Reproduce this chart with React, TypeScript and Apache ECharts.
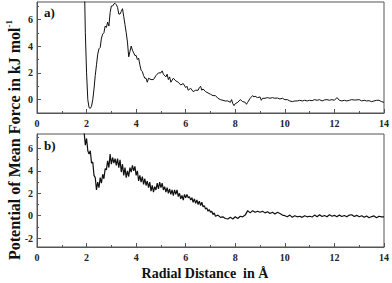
import React, { useEffect, useRef } from "react";
import * as echarts from "echarts";

// Panel a) data: radial distance (Å) and PMF (kJ/mol)
const xA = [1.88, 1.95, 2.0, 2.05, 2.1, 2.15, 2.2, 2.25, 2.3, 2.35, 2.4, 2.45, 2.5, 2.55, 2.6, 2.65, 2.7, 2.75, 2.8, 2.85, 2.9, 2.95, 3.0, 3.05, 3.1, 3.15, 3.2, 3.25, 3.3, 3.35, 3.4, 3.45, 3.5, 3.55, 3.6, 3.65, 3.7, 3.75, 3.8, 3.85, 3.9, 3.95, 4.0, 4.05, 4.1, 4.15, 4.2, 4.25, 4.3, 4.35, 4.4, 4.45, 4.5, 4.6, 4.7, 4.8, 4.9, 5.0, 5.05, 5.1, 5.2, 5.25, 5.3, 5.35, 5.4, 5.5, 5.6, 5.7, 5.8, 5.9, 6.0, 6.05, 6.1, 6.2, 6.3, 6.4, 6.5, 6.55, 6.6, 6.65, 6.7, 6.8, 6.9, 7.0, 7.1, 7.2, 7.3, 7.4, 7.5, 7.6, 7.7, 7.8, 7.85, 7.9, 7.95, 8.0, 8.1, 8.2, 8.3, 8.4, 8.45, 8.5, 8.6, 8.7, 8.75, 8.8, 8.9, 9.0, 9.05, 9.1, 9.2, 9.3, 9.4, 9.5, 9.6, 9.7, 9.8, 9.9, 10.0, 10.1, 10.2, 10.3, 10.4, 10.5, 10.6, 10.7, 10.8, 10.9, 11.0, 11.1, 11.2, 11.3, 11.4, 11.5, 11.6, 11.7, 11.8, 11.9, 12.0, 12.1, 12.2, 12.3, 12.4, 12.5, 12.6, 12.7, 12.8, 12.9, 13.0, 13.1, 13.2, 13.3, 13.4, 13.5, 13.6, 13.7, 13.8, 13.9, 14.0];
const yA = [12, 5, 2.0, 0.0, -0.6, -0.65, -0.5, 0.0, 0.8, 1.8, 2.6, 3.4, 3.8, 3.9, 4.6, 4.9, 5.0, 5.5, 5.4, 5.8, 5.5, 6.5, 7.0, 7.0, 7.15, 7.2, 7.1, 6.9, 6.4, 6.4, 6.6, 6.8, 6.2, 5.6, 5.0, 4.3, 3.2, 3.6, 4.0, 3.7, 3.5, 3.3, 3.3, 3.0, 3.1, 2.6, 2.2, 2.1, 1.8, 1.6, 1.6, 1.3, 1.6, 1.5, 1.5, 1.8, 2.0, 2.0, 2.15, 1.9, 1.7, 1.9, 1.5, 1.7, 1.3, 1.6, 1.4, 1.3, 1.1, 1.2, 0.9, 1.0, 0.7, 0.85, 0.6, 0.7, 0.7, 0.9, 1.0, 0.7, 0.8, 0.6, 0.5, 0.4, 0.3, 0.3, 0.1, 0.0, -0.05, -0.1, -0.1, -0.2, 0.0, -0.3, -0.45, -0.3, -0.2, 0.0, -0.15, -0.2, -0.35, -0.2, 0.1, 0.3, 0.2, 0.25, 0.15, 0.2, -0.05, 0.1, 0.1, 0.15, 0.1, 0.15, 0.1, 0.12, 0.05, 0.1, 0.0, 0.0, -0.1, -0.15, -0.1, -0.1, -0.05, -0.1, -0.05, -0.1, -0.05, -0.08, 0.0, -0.05, 0.0, -0.1, -0.02, 0.0, -0.05, 0.0, -0.05, 0.15, -0.05, -0.1, -0.05, -0.1, -0.05, 0.0, -0.03, -0.02, 0.0, -0.1, -0.05, -0.1, -0.08, -0.15, -0.1, -0.05, -0.05, -0.15, -0.2];

// Panel b) data
const xB = [1.9, 1.95, 2.0, 2.05, 2.1, 2.15, 2.2, 2.25, 2.3, 2.35, 2.4, 2.45, 2.5, 2.55, 2.6, 2.65, 2.7, 2.75, 2.8, 2.85, 2.9, 2.95, 3.0, 3.05, 3.1, 3.15, 3.2, 3.25, 3.3, 3.35, 3.4, 3.45, 3.5, 3.55, 3.6, 3.65, 3.7, 3.75, 3.8, 3.85, 3.9, 3.95, 4.0, 4.05, 4.1, 4.15, 4.2, 4.25, 4.3, 4.35, 4.4, 4.45, 4.5, 4.55, 4.6, 4.65, 4.7, 4.75, 4.8, 4.85, 4.9, 4.95, 5.0, 5.05, 5.1, 5.15, 5.2, 5.25, 5.3, 5.35, 5.4, 5.45, 5.5, 5.55, 5.6, 5.65, 5.7, 5.75, 5.8, 5.85, 5.9, 5.95, 6.0, 6.05, 6.1, 6.15, 6.2, 6.25, 6.3, 6.35, 6.4, 6.45, 6.5, 6.55, 6.6, 6.65, 6.7, 6.75, 6.8, 6.85, 6.9, 6.95, 7.0, 7.05, 7.1, 7.15, 7.2, 7.3, 7.4, 7.5, 7.6, 7.7, 7.8, 7.9, 8.0, 8.1, 8.2, 8.3, 8.4, 8.5, 8.6, 8.7, 8.8, 8.9, 9.0, 9.1, 9.2, 9.3, 9.4, 9.5, 9.6, 9.7, 9.8, 9.9, 10.0, 10.1, 10.2, 10.3, 10.4, 10.5, 10.6, 10.7, 10.8, 10.9, 11.0, 11.1, 11.2, 11.3, 11.4, 11.5, 11.6, 11.7, 11.8, 11.9, 12.0, 12.1, 12.2, 12.3, 12.4, 12.5, 12.6, 12.7, 12.8, 12.9, 13.0, 13.1, 13.2, 13.3, 13.4, 13.5, 13.6, 13.7, 13.8, 13.9, 14.0];
const yB = [7.5, 6.3, 6.9, 5.8, 5.5, 5.8, 4.7, 4.8, 3.6, 3.4, 2.3, 3.0, 2.5, 3.4, 2.9, 3.7, 3.3, 4.2, 4.1, 4.9, 4.3, 5.5, 4.6, 5.2, 4.7, 5.1, 4.5, 5.1, 4.3, 5.0, 3.9, 4.6, 3.6, 4.3, 3.4, 4.0, 3.5, 4.3, 3.9, 4.5, 4.0, 4.4, 3.6, 4.0, 3.1, 3.6, 3.0, 3.5, 2.8, 3.3, 2.7, 3.1, 2.5, 3.0, 2.2, 2.7, 2.1, 2.6, 2.3, 2.9, 2.4, 3.0, 2.5, 2.9, 2.3, 2.6, 2.1, 2.5, 2.0, 2.4, 1.9, 2.3, 1.8, 2.3, 1.9, 2.3, 1.7, 2.0, 1.5, 1.8, 1.4, 1.9, 1.6, 1.9, 1.6, 1.7, 1.4, 1.6, 1.2, 1.5, 1.1, 1.4, 1.0, 1.3, 0.9, 1.2, 0.8, 0.9, 0.6, 0.7, 0.4, 0.55, 0.3, 0.4, 0.1, 0.25, -0.05, 0.05, -0.15, -0.1, -0.25, -0.3, -0.15, -0.3, -0.1, -0.25, -0.05, -0.1, 0.05, 0.45, 0.25, 0.45, 0.3, 0.4, 0.3, 0.4, 0.25, 0.35, 0.2, 0.3, 0.15, 0.3, 0.2, 0.05, 0.0, -0.1, 0.05, -0.15, 0.0, -0.1, -0.05, -0.15, 0.0, -0.1, -0.05, -0.12, 0.05, -0.1, 0.08, -0.08, 0.02, -0.1, 0.08, -0.05, 0.03, -0.1, 0.05, -0.08, 0.02, -0.1, 0.05, 0.08, -0.08, 0.03, -0.1, 0.0, -0.15, -0.02, -0.18, -0.08, -0.02, -0.18, -0.05, -0.1, -0.1];

const xTicks = [0, 2, 4, 6, 8, 10, 12, 14];
const yLabelsA = [0, 2, 4, 6];
const yMinorA = [-1, 1, 3, 5, 7];
const yLabelsB = [-2, 0, 2, 4, 6];
const yMinorB = [-1, 1, 3, 5, 7];

const FONT = "'Liberation Serif', 'Times New Roman', serif";

export default function App() {
  const ref = useRef<HTMLDivElement>(null);
  useEffect(() => {
    if (!ref.current) return;
    const chart = echarts.init(ref.current, undefined, { renderer: "svg" });
    const labelStyle = { fontFamily: FONT, fontWeight: "bold" as const, fontSize: 10, color: "#222" };
    const gridL = 37, gridW = 348;
    const xAxisFor = (gi: number) => ({
      type: "value",
      gridIndex: gi,
      min: 0,
      max: 14,
      interval: 2,
      axisLine: { show: true, onZero: false, lineStyle: { color: "#555", width: 1 } },
      axisTick: { show: true, inside: true, length: 4, lineStyle: { color: "#555" } },
      minorTick: { show: true, splitNumber: 2, length: 2, lineStyle: { color: "#555" } },
      splitLine: { show: false },
      axisLabel: { ...labelStyle, margin: 5, customValues: xTicks },
    });
    const yAxisFor = (gi: number, min: number, max: number, labels: number[]) => ({
      type: "value",
      gridIndex: gi,
      min,
      max,
      axisLine: { show: true, onZero: false, lineStyle: { color: "#555", width: 1 } },
      axisTick: { show: true, inside: true, length: 4, customValues: labels, lineStyle: { color: "#555" } },
      splitLine: { show: false },
      axisLabel: { ...labelStyle, margin: 4, customValues: labels },
    });
    const yMinorFor = (gi: number, min: number, max: number, vals: number[]) => ({
      type: "value",
      gridIndex: gi,
      min,
      max,
      position: "left",
      axisLine: { show: false, onZero: false },
      axisTick: { show: true, inside: true, length: 2, customValues: vals, lineStyle: { color: "#555" } },
      splitLine: { show: false },
      axisLabel: { show: false },
    });
    chart.setOption({
      animation: false,
      backgroundColor: "#fff",
      grid: [
        { left: gridL, top: 2, width: gridW, height: 111, show: true, borderColor: "#555", borderWidth: 1 },
        { left: gridL, top: 134, width: gridW, height: 113, show: true, borderColor: "#555", borderWidth: 1 },
      ],
      xAxis: [xAxisFor(0), xAxisFor(1)],
      yAxis: [
        yAxisFor(0, -1, 7.3, yLabelsA),
        yAxisFor(1, -2.8, 7.3, yLabelsB),
        yMinorFor(0, -1, 7.3, yMinorA),
        yMinorFor(1, -2.8, 7.3, yMinorB),
      ],
      series: [
        {
          type: "line",
          xAxisIndex: 0,
          yAxisIndex: 0,
          showSymbol: false,
          clip: true,
          data: xA.map((x, i) => [x, yA[i]]),
          lineStyle: { color: "#111", width: 1 },
        },
        {
          type: "line",
          xAxisIndex: 1,
          yAxisIndex: 1,
          showSymbol: false,
          clip: true,
          data: xB.map((x, i) => [x, yB[i]]),
          lineStyle: { color: "#111", width: 1.2 },
        },
      ],
      graphic: [
        {
          type: "text",
          left: 44,
          top: 6,
          style: { text: "a)", font: `bold 13px ${FONT}`, fill: "#111" },
        },
        {
          type: "text",
          left: 44,
          top: 139,
          style: { text: "b)", font: `bold 13px ${FONT}`, fill: "#111" },
        },
        {
          type: "text",
          x: 13,
          y: 140,
          rotation: Math.PI / 2,
          style: {
            text: "{m|Potential of Mean Force in kJ mol}{s|-1}",
            align: "center",
            verticalAlign: "middle",
            fill: "#111",
            rich: {
              m: { fontFamily: FONT, fontWeight: "bold", fontSize: 16, lineHeight: 18, verticalAlign: "bottom", fill: "#111" },
              s: { fontFamily: FONT, fontWeight: "bold", fontSize: 9, lineHeight: 18, verticalAlign: "top", fill: "#111" },
            },
          },
        },
        {
          type: "text",
          x: 205,
          y: 273,
          style: {
            text: "Radial Distance  in Å",
            font: `bold 14px ${FONT}`,
            fill: "#111",
            align: "center",
            verticalAlign: "middle",
          },
        },
      ],
    });
    return () => chart.dispose();
  }, []);
  return <div ref={ref} style={{ width: 392, height: 283, position: "absolute", left: 0, top: 0 }} />;
}
